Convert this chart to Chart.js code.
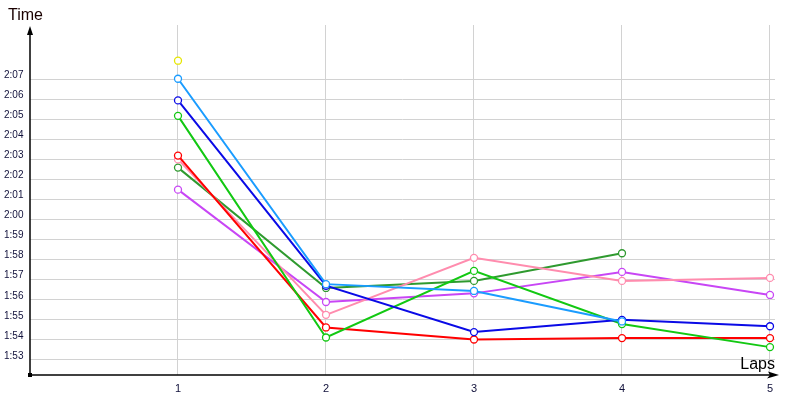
<!DOCTYPE html>
<html>
<head>
<meta charset="utf-8">
<script src="https://cdn.jsdelivr.net/npm/chart.js@4/dist/chart.umd.min.js"></script>
<style>
html,body{margin:0;padding:0;background:#fff;}
#wrap{width:800px;height:400px;position:relative;}
</style>
</head>
<body>
<div id="wrap"><canvas id="c" width="800" height="400"></canvas></div>
<script>
// Lap numbers
const laps = [1, 2, 3, 4, 5];
// Y tick values (seconds)
const yTicks = [113,114,115,116,117,118,119,120,121,122,123,124,125,126,127];
// Lap times in seconds per driver (null = no lap)
const yellowTimes    = [127.92, null, null, null, null];
const lightBlueTimes = [127.02, 116.78, 116.44, 114.92, null];
const blueTimes      = [125.94, 116.70, 114.39, 115.00, 114.68];
const greenTimes     = [125.17, 114.12, 117.44, 114.79, 113.64];
const redTimes       = [123.19, 114.62, 114.02, 114.09, 114.09];
const pinkTimes      = [123.00, 115.25, 118.09, 116.94, 117.09];
const darkGreenTimes = [122.59, 116.59, 116.94, 118.32, null];
const purpleTimes    = [121.49, 115.89, 116.32, 117.39, 116.24];

const seriesNames  = ['Yellow','Light blue','Blue','Green','Red','Pink','Dark green','Purple'];
const seriesData   = [yellowTimes, lightBlueTimes, blueTimes, greenTimes, redTimes, pinkTimes, darkGreenTimes, purpleTimes];
const seriesColors = ['#e6e600','#1a9cff','#0a0ae6','#12c812','#ff0000','#ff8cae','#2f9a2f','#c846f5'];

function fmt(v){
  const m = Math.floor(v/60);
  const s = Math.round(v - m*60);
  return m + ':' + (s<10?'0':'') + s;
}

const datasets = seriesData.map((arr, i) => ({
  label: seriesNames[i],
  data: laps.map((l, j) => ({x: l, y: arr[j]})).filter(p => p.y !== null),
  borderColor: seriesColors[i],
  backgroundColor: '#ffffff',
  pointBackgroundColor: '#ffffff',
  pointBorderColor: seriesColors[i],
  pointRadius: 3.5,
  pointBorderWidth: 1.3,
  borderWidth: 2,
  tension: 0,
  fill: false
}));

const axesPlugin = {
  id: 'axesArrows',
  afterDraw(chart){
    const ctx = chart.ctx;
    const a = chart.chartArea;
    const x0 = a.left, y0 = a.bottom;
    ctx.save();
    ctx.strokeStyle = '#000';
    ctx.fillStyle = '#000';
    ctx.lineWidth = 1.5;
    // y axis
    ctx.beginPath();
    ctx.moveTo(x0, y0);
    ctx.lineTo(x0, a.top + 6);
    ctx.stroke();
    ctx.beginPath();
    ctx.moveTo(x0, a.top + 1);
    ctx.lineTo(x0 - 3, a.top + 10);
    ctx.lineTo(x0 + 3, a.top + 10);
    ctx.closePath();
    ctx.fill();
    // x axis
    const xEnd = a.right + 3;
    ctx.beginPath();
    ctx.moveTo(x0, y0);
    ctx.lineTo(xEnd - 6, y0);
    ctx.stroke();
    ctx.beginPath();
    ctx.moveTo(xEnd + 1, y0);
    ctx.lineTo(xEnd - 10, y0 - 3.5);
    ctx.lineTo(xEnd - 8, y0);
    ctx.lineTo(xEnd - 11, y0 + 3.5);
    ctx.closePath();
    ctx.fill();
    // origin square
    ctx.fillRect(x0 - 2, y0 - 2, 4, 4);
    // titles
    ctx.font = '16px "Liberation Sans", Arial, sans-serif';
    ctx.textBaseline = 'alphabetic';
    ctx.textAlign = 'left';
    ctx.fillStyle = '#1a0000';
    ctx.fillText('Time', 8, 20);
    ctx.textAlign = 'right';
    ctx.fillStyle = '#000';
    ctx.fillText('Laps', a.right, y0 - 6);
    ctx.restore();
  }
};

new Chart(document.getElementById('c'), {
  type: 'line',
  data: { datasets },
  options: {
    responsive: false,
    animation: false,
    events: [],
    layout: { padding: { left: 4, right: 25, top: 25, bottom: 0 } },
    plugins: { legend: { display: false }, tooltip: { enabled: false }, title: { display: false } },
    scales: {
      x: {
        type: 'linear',
        min: 0,
        max: 5 + 5/148,
        afterBuildTicks(s){ s.ticks = laps.map(v => ({value: v})); },
        afterFit(s){ s.height = 25; },
        grid: { color: '#d2d2d2', lineWidth: 1, drawTicks: false },
        border: { display: false },
        ticks: {
          padding: 7,
          color: '#10103a',
          font: { family: '"Liberation Sans", Arial, sans-serif', size: 11 },
          callback: v => String(v),
          maxRotation: 0
        }
      },
      y: {
        type: 'linear',
        min: 112.25,
        max: 129.7,
        afterBuildTicks(s){ s.ticks = yTicks.map(v => ({value: v})); },
        afterFit(s){ s.width = 26; },
        grid: { color: '#d2d2d2', lineWidth: 1, drawTicks: false },
        border: { display: false },
        ticks: {
          crossAlign: 'far',
          labelOffset: -4,
          color: '#10103a',
          font: { family: '"Liberation Sans", Arial, sans-serif', size: 10 },
          callback: v => fmt(v)
        }
      }
    }
  },
  plugins: [axesPlugin]
});
</script>
</body>
</html>
